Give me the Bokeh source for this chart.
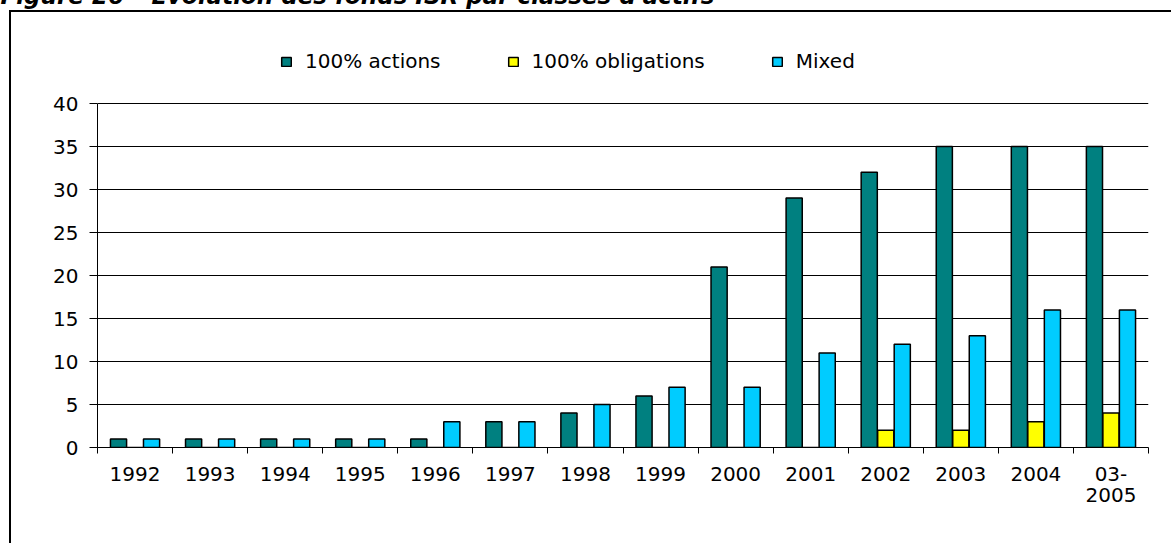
from bokeh.plotting import figure
from bokeh.models import Range1d, FixedTicker, Legend, LegendItem, Title, InlineStyleSheet
from bokeh.embed import file_html
from bokeh.resources import INLINE

# ---- data ----
categories = ["1992", "1993", "1994", "1995", "1996", "1997", "1998", "1999",
              "2000", "2001", "2002", "2003", "2004", "03-\n2005"]
actions = [1, 1, 1, 1, 1, 3, 4, 6, 21, 29, 32, 35, 35, 35]
obligations = [0, 0, 0, 0, 0, 0, 0, 0, 0, 0, 2, 2, 3, 4]
mixed = [1, 1, 1, 1, 3, 3, 5, 7, 7, 11, 12, 13, 16, 16]
series_names = ["100% actions", "100% obligations", "Mixed"]
series_colors = ["#008080", "#FFFF00", "#00CCFF"]
y_ticks = [0, 5, 10, 15, 20, 25, 30, 35, 40]
title_text = "Figure 26 \u2013 Evolution des fonds ISR par classes d'actifs"

FONT = "DejaVu Sans"
FS = "20px"
n = len(categories)
Y_MAX = 40          # value axis maximum
Y_VIEW = 47.33      # head-room above the axis, where the legend sits
SHIFT = 60          # canvas is pulled up so the caption is cut by the window top

p = figure(width=1171, height=543 + SHIFT, output_backend="svg", toolbar_location=None,
           x_range=Range1d(0, n), y_range=Range1d(0, Y_VIEW),
           min_border_left=97, min_border_right=23, min_border_top=100,
           min_border_bottom=96, margin=(-SHIFT, 0, 0, 0))
p.outline_line_color = None
p.background_fill_color = "white"
p.border_fill_color = "white"

# caption (mostly hidden above the window, as in the source document)
p.title = Title(text=title_text, align="left", offset=-97, standoff=63,
                vertical_align="bottom", text_font=FONT,
                text_font_style="bold italic", text_font_size="23px",
                text_color="black")

offsets = [-0.22, 0.0, 0.22]
series = [actions, obligations, mixed]
renderers = []
for k, vals in enumerate(series):
    xs = [i + 0.5 + offsets[k] for i in range(n)]
    r = p.vbar(x=xs, top=vals, bottom=0, width=0.215,
               fill_color=series_colors[k], line_color="black", line_width=1.5)
    renderers.append(r)

# x axis: labels at category centres, tick marks at category boundaries
p.xaxis.ticker = FixedTicker(ticks=[i + 0.5 for i in range(n)],
                             minor_ticks=[float(i) for i in range(n + 1)])
p.xaxis.major_label_overrides = {i + 0.5: c for i, c in enumerate(categories)}
p.xaxis.major_tick_out = 0
p.xaxis.major_tick_in = 0
p.xaxis.minor_tick_out = 6
p.xaxis.minor_tick_in = 0
p.xaxis.minor_tick_line_color = "black"
p.xaxis.major_label_standoff = 8
p.xaxis.axis_line_color = "black"
p.xaxis.major_label_text_font = FONT
p.xaxis.major_label_text_font_size = FS
p.xaxis.major_label_text_line_height = 0.9
p.xaxis.major_label_text_color = "black"

p.yaxis.ticker = FixedTicker(ticks=y_ticks)
p.yaxis.bounds = (0, Y_MAX)
p.yaxis.major_tick_out = 8
p.yaxis.major_tick_in = 0
p.yaxis.minor_tick_out = 0
p.yaxis.minor_tick_in = 0
p.yaxis.major_tick_line_color = "black"
p.yaxis.axis_line_color = "black"
p.yaxis.major_label_standoff = 11
p.yaxis.major_label_text_font = FONT
p.yaxis.major_label_text_font_size = FS
p.yaxis.major_label_text_color = "black"

p.xgrid.visible = False
p.ygrid.ticker = FixedTicker(ticks=y_ticks)
p.ygrid.grid_line_color = "black"
p.ygrid.grid_line_width = 1

legend = Legend(items=[LegendItem(label=series_names[k], renderers=[renderers[k]])
                       for k in range(3)],
                orientation="horizontal", location=(183, 374),
                padding=0, margin=0, spacing=66, label_standoff=13,
                glyph_width=12, glyph_height=11, label_height=20,
                border_line_alpha=0, background_fill_alpha=0,
                label_text_font=FONT, label_text_font_size=FS,
                label_text_color="black")
p.add_layout(legend, "center")

# thin page frame of the source document (left and top edges visible)
p.stylesheets = [InlineStyleSheet(css=(
    ":host { position: relative; }"
    ":host::after { content: ''; position: absolute; left: 9px; top: %dpx;"
    " width: 1300px; height: 700px; border-left: 2px solid black;"
    " border-top: 2px solid black; pointer-events: none; z-index: 10; }" % (SHIFT + 10)
))]

open("out.html", "w").write(file_html(p, INLINE))
